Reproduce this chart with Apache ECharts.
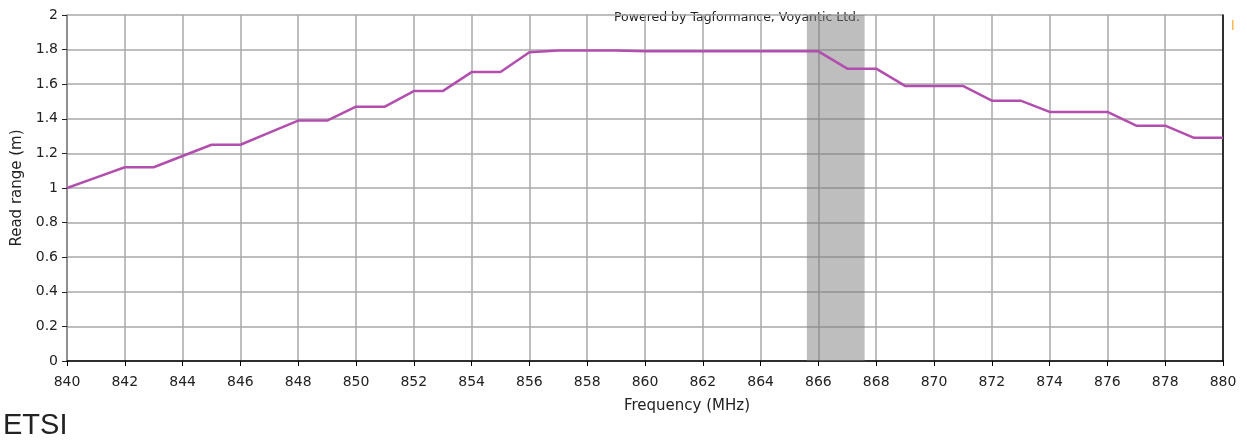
<!DOCTYPE html>
<html>
<head>
<meta charset="utf-8">
<script src="https://cdn.jsdelivr.net/npm/echarts@6/dist/echarts.min.js"></script>
<style>
  html, body { margin: 0; padding: 0; background: #fff; }
  #chart { width: 1247px; height: 446px; }
</style>
</head>
<body>
<div id="chart"></div>
<script>
// frequency points (MHz) and read range (m)
const freqs = [840, 841, 842, 843, 844, 845, 846, 847, 848, 849, 850, 851, 852, 853, 854, 855, 856, 857, 858, 859, 860,
  861, 862, 863, 864, 865, 866, 867, 868, 869, 870, 871, 872, 873, 874, 875, 876, 877, 878, 879, 880];
const readRange = [1.00, 1.06, 1.12, 1.12, 1.185, 1.25, 1.25, 1.32, 1.39, 1.39, 1.47, 1.47, 1.56, 1.56, 1.67, 1.67, 1.785, 1.795, 1.795, 1.795, 1.79,
  1.79, 1.79, 1.79, 1.79, 1.79, 1.79, 1.69, 1.69, 1.59, 1.59, 1.59, 1.505, 1.505, 1.44, 1.44, 1.44, 1.36, 1.36, 1.29, 1.29];
// ETSI band shading
const etsiBand = [865.6, 867.6];

const chart = echarts.init(document.getElementById('chart'));
const labelFont = 'DejaVu Sans';

chart.setOption({
  animation: false,
  grid: { left: 67, right: 24, top: 15, bottom: 85 },
  xAxis: {
    type: 'value',
    min: 840,
    max: 880,
    interval: 2,
    name: 'Frequency (MHz)',
    nameLocation: 'middle',
    nameGap: 38,
    nameTextStyle: { fontFamily: labelFont, fontSize: 15, color: '#222', padding: [0, 0, 0, 84] },
    axisLine: { show: true, lineStyle: { color: '#000', width: 1.5 } },
    axisTick: { show: true, length: 5, lineStyle: { color: '#000' } },
    axisLabel: { fontFamily: labelFont, fontSize: 14, color: '#222', margin: 14 },
    splitLine: { show: true, lineStyle: { color: '#a8a8a8', width: 1.5 } }
  },
  yAxis: [{
    type: 'value',
    min: 0,
    max: 2,
    interval: 0.2,
    name: 'Read range (m)',
    nameLocation: 'middle',
    nameGap: 39,
    nameTextStyle: { fontFamily: labelFont, fontSize: 15, color: '#222' },
    axisLine: { show: true, lineStyle: { color: '#808080', width: 1.5 } },
    axisTick: { show: true, length: 5, lineStyle: { color: '#222' } },
    axisLabel: { fontFamily: labelFont, fontSize: 14, color: '#222', margin: 9 },
    splitLine: { show: true, lineStyle: { color: '#a8a8a8', width: 1.5 } }
  }, {
    type: 'value',
    position: 'right',
    min: 0,
    max: 2,
    axisLine: { show: true, lineStyle: { color: '#000', width: 1.5 } },
    axisTick: { show: false },
    axisLabel: { show: false },
    splitLine: { show: false }
  }],
  series: [{
    type: 'line',
    data: freqs.map((f, i) => [f, readRange[i]]),
    showSymbol: false,
    lineStyle: { color: '#b24fae', width: 2.5 },
    z: 5,
    markArea: {
      silent: true,
      itemStyle: { color: 'rgba(120,120,120,0.48)' },
      data: [[{ xAxis: etsiBand[0] }, { xAxis: etsiBand[1] }]]
    }
  }],
  graphic: [
    {
      type: 'text', left: 614, top: 11,
      style: { text: 'Powered by Tagformance, Voyantic Ltd.', font: '12.5px "DejaVu Sans"', fill: '#222' }
    },
    {
      type: 'rect', left: 1232, top: 20,
      shape: { width: 1.5, height: 10 },
      style: { fill: '#ffb84d' }
    },
    {
      type: 'text', left: 3, top: 411,
      style: { text: 'ETSI', font: '29px "Liberation Sans", Arial', fill: '#222' }
    }
  ]
});
</script>
</body>
</html>
